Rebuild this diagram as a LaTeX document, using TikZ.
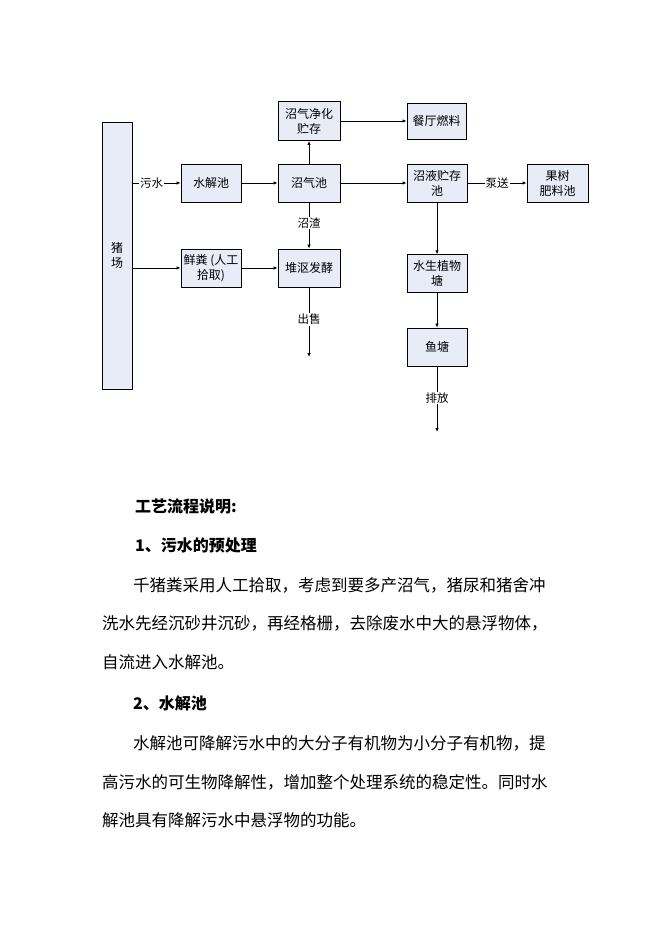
\documentclass[tikz,border=0pt]{standalone}
\usepackage{fontspec}
\setmainfont{Noto Sans CJK SC}
\usetikzlibrary{arrows.meta}
\definecolor{boxfill}{RGB}{232,236,247}
\tikzset{
  flowbox/.style={draw=black, line width=0.9pt, fill=boxfill, inner sep=1pt, align=center,
    font=\fontsize{12}{15}\selectfont, anchor=center},
  flowarrow/.style={line width=0.8pt, -{Latex[length=4pt,width=3.5pt]}},
  lbl/.style={fill=white, inner sep=1pt, font=\fontsize{11.5}{14}\selectfont},
  bodytext/.style={anchor=west, inner sep=0pt, font=\fontsize{16.5}{20}\selectfont},
  headtext/.style={anchor=west, inner sep=0pt, font=\fontsize{16}{20}\selectfont\bfseries},
}
\begin{document}
\begin{tikzpicture}[x=1pt,y=-1pt]
\useasboundingbox (0,0) rectangle (662,936);
% boxes
\node[flowbox, minimum width=30pt, minimum height=267pt] (pig) at (117,255.5) {猪\\场};
\node[flowbox, minimum width=60pt, minimum height=38pt] (sj) at (211,183) {水解池};
\node[flowbox, minimum width=62pt, minimum height=38pt] (zq) at (309,183) {沼气池};
\node[flowbox, minimum width=62pt, minimum height=39pt] (jh) at (309,121) {沼气净化\\贮存};
\node[flowbox, minimum width=59pt, minimum height=36pt] (ct) at (436.5,121) {餐厅燃料};
\node[flowbox, minimum width=60pt, minimum height=38pt] (zy) at (437,183) {沼液贮存\\池};
\node[flowbox, minimum width=61pt, minimum height=38pt] (gs) at (557.5,183) {果树\\肥料池};
\node[flowbox, minimum width=60pt, minimum height=38pt] (xf) at (211,268) {鲜粪 (人工\\拾取)};
\node[flowbox, minimum width=62pt, minimum height=38pt] (do) at (309,268) {堆沤发酵};
\node[flowbox, minimum width=60pt, minimum height=37.5pt] (ss) at (437,273.5) {水生植物\\塘};
\node[flowbox, minimum width=60pt, minimum height=38pt] (yt) at (437,347) {鱼塘};
\coordinate (sale) at (309,357);
\coordinate (out) at (437,432);
% connectors
\draw[flowarrow] (pig.east |- sj.west) -- node[lbl, pos=0.4] {污水} (sj.west);
\draw[flowarrow] (pig.east |- xf.west) -- (xf.west);
\draw[flowarrow] (sj.east) -- (zq.west);
\draw[flowarrow] (zq.north) -- (jh.south);
\draw[flowarrow] (jh.east) -- (jh.east -| ct.west);
\draw[flowarrow] (zq.east) -- (zy.west);
\draw[flowarrow] (zq.south) -- node[lbl, pos=0.45] {沼渣} (do.north);
\draw[flowarrow] (xf.east) -- (do.west);
\draw[flowarrow] (do.south) -- node[lbl, pos=0.46] {出售} (sale);
\draw[flowarrow] (zy.east) -- node[lbl, pos=0.5] {泵送} (gs.west);
\draw[flowarrow] (zy.south) -- (ss.north);
\draw[flowarrow] (ss.south) -- (yt.north);
\draw[flowarrow] (yt.south) -- node[lbl, pos=0.48] {排放} (out);
% text
\node[headtext] (h0) at (135,506) {工艺流程说明:};
\node[headtext] (h1) at (135,545) {1、污水的预处理};
\node[bodytext] (p1) at (133,585) {千猪粪采用人工拾取，考虑到要多产沼气，猪尿和猪舍冲};
\node[bodytext] (p2) at (102,623) {洗水先经沉砂井沉砂，再经格栅，去除废水中大的悬浮物体，};
\node[bodytext] (p3) at (102,662) {自流进入水解池。};
\node[headtext] (h2) at (133,703) {2、水解池};
\node[bodytext] (p4) at (133,743) {水解池可降解污水中的大分子有机物为小分子有机物，提};
\node[bodytext] (p5) at (102,782) {高污水的可生物降解性，增加整个处理系统的稳定性。同时水};
\node[bodytext] (p6) at (102,820) {解池具有降解污水中悬浮物的功能。};
\end{tikzpicture}
\end{document}
